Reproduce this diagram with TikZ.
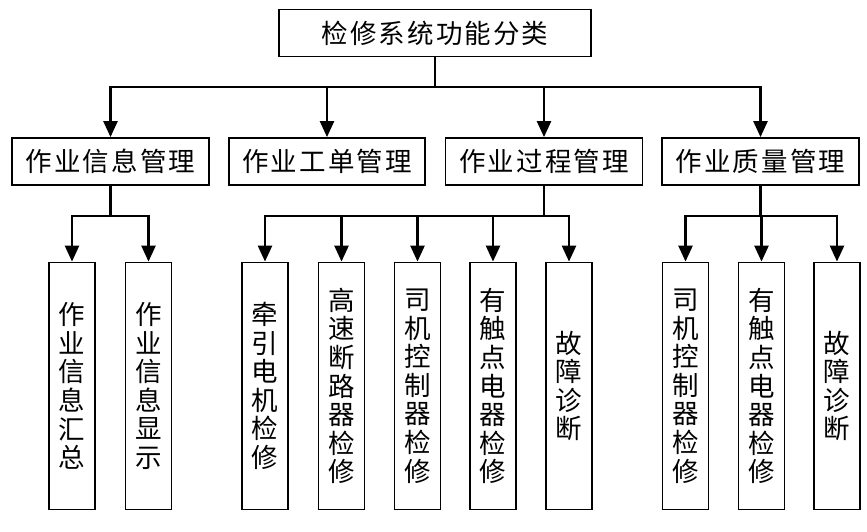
\documentclass[tikz,border=0pt]{standalone}
\usepackage{fontspec}
\usetikzlibrary{arrows.meta}
\newfontfamily\cjkh[LetterSpace=8]{Noto Sans CJK SC}
\newfontfamily\cjkv{Noto Sans CJK SC}
\tikzset{
  hbox/.style={draw=black, line width=1.8pt, minimum height=47pt, inner sep=0pt,
    font=\cjkh\fontsize{26.5}{28}\selectfont},
  vbox/.style={draw=black, line width=1.8pt, minimum width=46pt, minimum height=247pt,
    inner sep=0pt, align=center, font=\cjkv\fontsize{26.5}{28.6}\selectfont},
  conn/.style={line width=2.5pt},
  arr/.style={line width=2.5pt, -{Triangle[length=16pt,width=14pt]}},
}
\begin{document}
\begin{tikzpicture}[x=1pt,y=-1pt]
\useasboundingbox (0,0) rectangle (867,532);
% root
\node[hbox, minimum width=312pt] (root) at (435,33) {检修系统功能分类};
% level 2
\node[hbox, minimum width=197pt] (a) at (110.5,161.5) {作业信息管理};
\node[hbox, minimum width=196pt] (b) at (327,161.5) {作业工单管理};
\node[hbox, minimum width=197pt] (c) at (544,161.5) {作业过程管理};
\node[hbox, minimum width=197pt] (d) at (760.5,161.5) {作业质量管理};
% level 3
\node[vbox] (a1) at (72,386) {作\\业\\信\\息\\汇\\总};
\node[vbox] (a2) at (148.5,386) {作\\业\\信\\息\\显\\示};
\node[vbox] (c1) at (265,386) {牵\\引\\电\\机\\检\\修};
\node[vbox] (c2) at (341.5,386) {高\\速\\断\\路\\器\\检\\修};
\node[vbox] (c3) at (417.5,386) {司\\机\\控\\制\\器\\检\\修};
\node[vbox] (c4) at (493,386) {有\\触\\点\\电\\器\\检\\修};
\node[vbox] (c5) at (569,386) {故\\障\\诊\\断};
\node[vbox] (d1) at (685.5,386) {司\\机\\控\\制\\器\\检\\修};
\node[vbox] (d2) at (761.5,386) {有\\触\\点\\电\\器\\检\\修};
\node[vbox] (d3) at (837,386) {故\\障\\诊\\断};
% root connectors
\coordinate (bus) at (0,87);
\draw[conn] (root.south) -- (root.south |- bus);
\draw[conn] ([xshift=-1.25pt]a.north |- bus) -- ([xshift=1.25pt]d.north |- bus);
\foreach \n in {a,b,c,d} \draw[arr] (\n.north |- bus) -- (\n.north);
% level 3 connectors
\coordinate (bus2) at (0,216);
\draw[conn] (a.south) -- (a.south |- bus2);
\draw[conn] ([xshift=-1.25pt]a1.north |- bus2) -- ([xshift=1.25pt]a2.north |- bus2);
\foreach \n in {a1,a2} \draw[arr] (\n.north |- bus2) -- (\n.north);
\draw[conn] (c.south) -- (c.south |- bus2);
\draw[conn] ([xshift=-1.25pt]c1.north |- bus2) -- ([xshift=1.25pt]c5.north |- bus2);
\foreach \n in {c1,c2,c3,c4,c5} \draw[arr] (\n.north |- bus2) -- (\n.north);
\draw[conn] (d.south) -- (d.south |- bus2);
\draw[conn] ([xshift=-1.25pt]d1.north |- bus2) -- ([xshift=1.25pt]d3.north |- bus2);
\foreach \n in {d1,d2,d3} \draw[arr] (\n.north |- bus2) -- (\n.north);
\end{tikzpicture}
\end{document}
